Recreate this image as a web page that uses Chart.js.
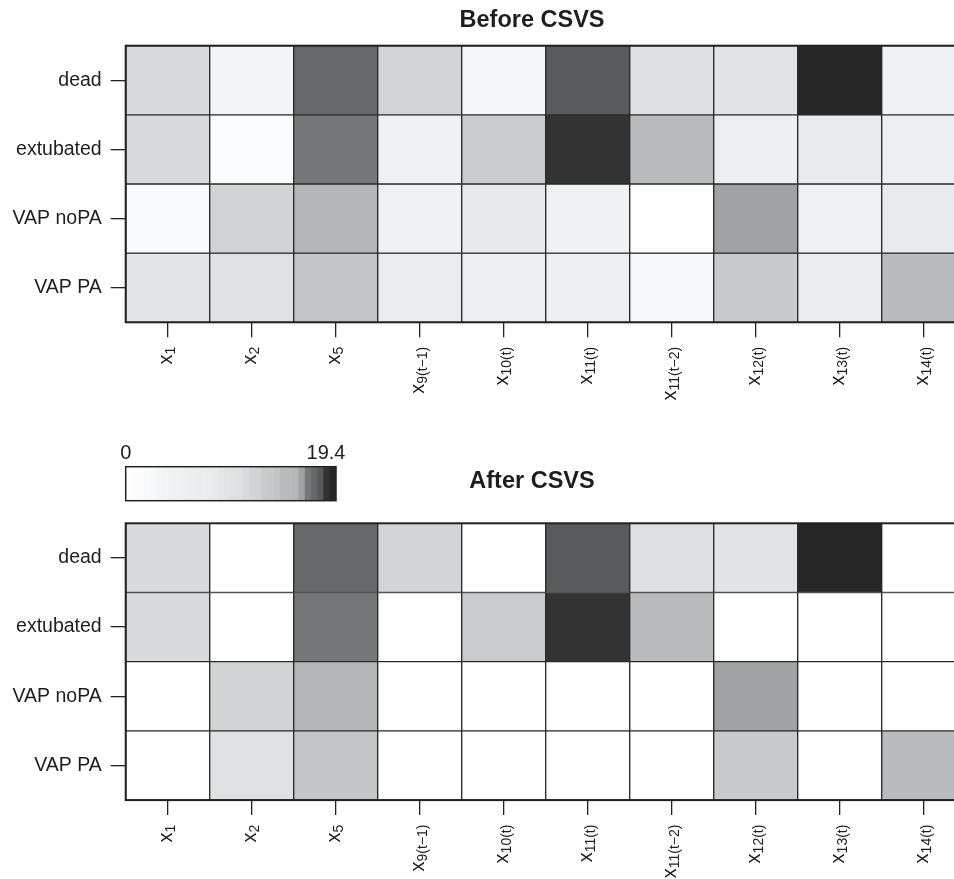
<!DOCTYPE html>
<html>
<head>
<meta charset="utf-8">
<title>Before / After CSVS</title>
<script src="https://cdn.jsdelivr.net/npm/chart.js@4.4.1/dist/chart.umd.min.js"></script>
<style>
  html, body { margin: 0; padding: 0; background: #fff; width: 954px; height: 879px; overflow: hidden; }
  canvas { position: absolute; display: block; }
  #heatBefore { left: 0; top: 0; }
  #heatAfter { left: 0; top: 430px; }
  #colorKey { left: 100px; top: 440px; }
</style>
</head>
<body>
<canvas id="heatBefore" width="970" height="430" style="width:970px;height:430px"></canvas>
<canvas id="heatAfter" width="970" height="450" style="width:970px;height:450px"></canvas>
<canvas id="colorKey" width="260" height="70" style="width:260px;height:70px"></canvas>
<script>
// Outcome rows, top to bottom
const rowNames = ['dead', 'extubated', 'VAP noPA', 'VAP PA'];

// Variable labels: base symbol plus subscript
const varBase = 'x';
const varSubs = ['1', '2', '5', '9(t\u22121)', '10(t)', '11(t)', '11(t\u22122)', '12(t)', '13(t)', '14(t)'];

// Importance scores before variable selection
const beforeDead      = [3.4, 1.1, 13.6, 3.9, 0.9, 14.8, 2.9, 2.6, 19.4, 1.3];
const beforeExtubated = [3.4, 0.4, 12.3, 1.3, 4.7, 18.2, 6.3, 1.6, 2.0, 1.6];
const beforeVapNoPA   = [0.6, 4.0, 6.6, 1.3, 2.1, 1.3, 0.2, 8.4, 1.4, 2.0];
const beforeVapPA     = [2.3, 2.8, 5.3, 1.8, 1.5, 1.6, 0.7, 4.8, 1.7, 6.2];

// Importance scores after variable selection (dropped terms are 0)
const afterDead      = [3.4, 0, 13.6, 3.9, 0, 14.8, 2.9, 2.6, 19.4, 0];
const afterExtubated = [3.4, 0, 12.3, 0, 4.7, 18.2, 6.3, 0, 0, 0];
const afterVapNoPA   = [0, 4.0, 6.6, 0, 0, 0, 0, 8.4, 0, 0];
const afterVapPA     = [0, 2.8, 5.3, 0, 0, 0, 0, 4.8, 0, 6.2];

// Colour key range
const keyMin = 0;
const keyMax = 19.4;
const keyLabels = ['0', '19.4'];

const FONT = '"Liberation Sans", Arial, Helvetica, sans-serif';
const INK = '#1e1e1e';
const DARKEST = 38;

function grey(v) {
  const L = Math.round(255 - ((v - keyMin) / (keyMax - keyMin)) * (255 - DARKEST));
  const t = (L > 60 && L < 252) ? 1 : 0;
  return `rgb(${L},${Math.min(255, L + t)},${Math.min(255, L + 2 * t)})`;
}

// Frame, title and subscripted column labels for a heatmap panel
const heatFrame = {
  id: 'heatFrame',
  afterDraw(chart, args, o) {
    const { ctx, chartArea: a } = chart;
    const x = chart.scales.x;
    ctx.save();
    ctx.lineWidth = 2;
    ctx.strokeStyle = '#222';
    ctx.strokeRect(a.left, a.top, a.right - a.left, a.bottom - a.top);

    ctx.fillStyle = INK;
    ctx.font = `bold 23.5px ${FONT}`;
    ctx.textAlign = 'center';
    ctx.textBaseline = 'alphabetic';
    ctx.fillText(o.title, o.titleX, o.titleY);

    const mainFont = `20px ${FONT}`;
    const subFont = `14px ${FONT}`;
    const labelTop = a.bottom + 24.5;
    ctx.textAlign = 'left';
    varSubs.forEach((sub, i) => {
      const px = x.getPixelForValue(i);
      ctx.font = mainFont;
      const wm = ctx.measureText(varBase).width;
      ctx.font = subFont;
      const ws = ctx.measureText(sub).width;
      ctx.save();
      ctx.translate(px, labelTop);
      ctx.rotate(-Math.PI / 2);
      ctx.font = mainFont;
      ctx.fillText(varBase, -(wm + ws), 4.5);
      ctx.font = subFont;
      ctx.fillText(sub, -ws, 7.5);
      ctx.restore();
    });
    ctx.restore();
  }
};

function makeHeat(id, rows, title, geo) {
  const nRows = rows.length;
  const datasets = rows.map((vals, r) => ({
    label: rowNames[r],
    data: vals.map(() => [nRows - 1 - r, nRows - r]),
    backgroundColor: vals.map(grey),
    borderColor: '#2a2a2a',
    borderWidth: 1,
    borderSkipped: false,
    grouped: false,
    barPercentage: 1,
    categoryPercentage: 1
  }));
  return new Chart(document.getElementById(id), {
    type: 'bar',
    data: { labels: varSubs.map(s => varBase + s), datasets },
    plugins: [heatFrame],
    options: {
      responsive: false,
      animation: false,
      events: [],
      layout: { padding: { top: geo.top, right: geo.width - geo.right, left: 0, bottom: 0 } },
      plugins: {
        legend: { display: false },
        tooltip: { enabled: false },
        heatFrame: { title, titleX: 532, titleY: geo.titleY }
      },
      scales: {
        x: {
          type: 'category',
          offset: true,
          border: { display: false },
          grid: { offset: false, drawOnChartArea: false, drawTicks: true, tickLength: 15, color: '#222', lineWidth: 1.3 },
          ticks: { display: false },
          afterFit: s => { s.height = geo.height - geo.bottom; }
        },
        y: {
          type: 'linear',
          min: 0,
          max: nRows,
          border: { display: false },
          grid: { drawOnChartArea: false, drawTicks: true, tickLength: 15, color: '#222', lineWidth: 1.3 },
          afterBuildTicks: s => { s.ticks = rowNames.map((_, r) => ({ value: nRows - 0.5 - r })); },
          ticks: {
            autoSkip: false,
            padding: 9,
            color: INK,
            font: { family: FONT, size: 19.5 },
            callback: v => rowNames[Math.round(nRows - 0.5 - v)]
          },
          afterFit: s => { s.width = 125.7; }
        }
      }
    }
  });
}

makeHeat('heatBefore', [beforeDead, beforeExtubated, beforeVapNoPA, beforeVapPA], 'Before CSVS',
  { width: 970, height: 430, top: 45.7, bottom: 322.3, right: 965.7, titleY: 26.5 });
makeHeat('heatAfter', [afterDead, afterExtubated, afterVapNoPA, afterVapPA], 'After CSVS',
  { width: 970, height: 450, top: 93.3, bottom: 370.1, right: 965.7, titleY: 58 });

// Colour key: one step per distinct score, darkest at the right
const keySteps = Array.from(new Set([keyMin,
  ...beforeDead, ...beforeExtubated, ...beforeVapNoPA, ...beforeVapPA])).sort((a, b) => a - b);

const keyFrame = {
  id: 'keyFrame',
  afterDraw(chart) {
    const { ctx, chartArea: a } = chart;
    ctx.save();
    ctx.lineWidth = 1.5;
    ctx.strokeStyle = '#222';
    ctx.strokeRect(a.left, a.top, a.right - a.left, a.bottom - a.top);
    ctx.fillStyle = INK;
    ctx.font = `20px ${FONT}`;
    ctx.textAlign = 'center';
    ctx.textBaseline = 'alphabetic';
    ctx.fillText(keyLabels[0], a.left, 19.3);
    ctx.fillText(keyLabels[1], a.right - 10, 19.3);
    ctx.restore();
  }
};

new Chart(document.getElementById('colorKey'), {
  type: 'bar',
  data: {
    labels: keySteps.map(String),
    datasets: [{
      data: keySteps.map(() => [0, 1]),
      backgroundColor: keySteps.map(grey),
      borderWidth: 0,
      barPercentage: 1,
      categoryPercentage: 1
    }]
  },
  plugins: [keyFrame],
  options: {
    responsive: false,
    animation: false,
    events: [],
    layout: { padding: { left: 25.7, right: 24, top: 26.7, bottom: 9.3 } },
    plugins: { legend: { display: false }, tooltip: { enabled: false } },
    scales: {
      x: { display: false, offset: true },
      y: { display: false, min: 0, max: 1 }
    }
  }
});
</script>
</body>
</html>
